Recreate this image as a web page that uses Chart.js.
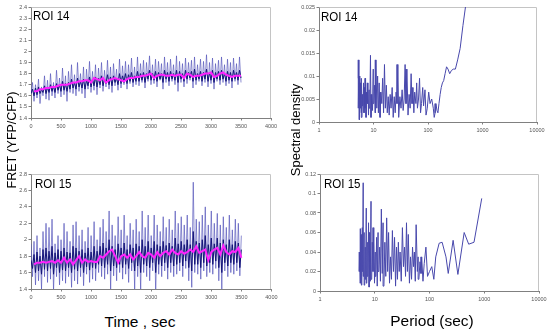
<!DOCTYPE html>
<html><head><meta charset="utf-8">
<script src="https://cdn.jsdelivr.net/npm/chart.js@4.4.0/dist/chart.umd.min.js"></script>
<style>
html,body{margin:0;padding:0;background:#fff;width:550px;height:335px;overflow:hidden;position:relative;font-family:"Liberation Sans",Arial,sans-serif}
canvas{position:absolute}
.t{position:absolute;color:#000;white-space:nowrap;line-height:1}
.roi{font-size:12px;transform:scaleX(0.96);transform-origin:left top}
.rot{transform:translate(-50%,-50%) rotate(-90deg)}
</style></head><body>
<canvas id="c1" width="280" height="140" style="left:0;top:0"></canvas>
<canvas id="c2" width="280" height="144" style="left:0;top:167px"></canvas>
<canvas id="c3" width="270" height="144" style="left:280px;top:0"></canvas>
<canvas id="c4" width="270" height="146" style="left:280px;top:167px"></canvas>
<div class="t roi" style="left:33px;top:9.5px">ROI 14</div>
<div class="t roi" style="left:35px;top:177.5px">ROI 15</div>
<div class="t roi" style="left:321px;top:10.5px">ROI 14</div>
<div class="t roi" style="left:324px;top:177.5px">ROI 15</div>
<div class="t" style="left:140px;top:313.5px;font-size:15.5px;transform:translateX(-50%)">Time , sec</div>
<div class="t" style="left:432px;top:312.5px;font-size:15.5px;transform:translateX(-50%)">Period (sec)</div>
<div class="t rot" style="left:12px;top:140px;font-size:12.5px">FRET (YFP/CFP)</div>
<div class="t rot" style="left:295px;top:130px;font-size:13px">Spectral density</div>
<script>
// ---------- data ----------
const timeTicks = [0,500,1000,1500,2000,2500,3000,3500,4000];
const fretTicks14 = [1.4,1.5,1.6,1.7,1.8,1.9,2,2.1,2.2,2.3,2.4];
const fretTicks15 = [1.4,1.6,1.8,2,2.2,2.4,2.6,2.8];
const periodTicks = [1,10,100,1000,10000];
const specTicks14 = [0,0.005,0.01,0.015,0.02,0.025];
const specTicks15 = [0,0.02,0.04,0.06,0.08,0.1,0.12];

const timeRaw = [0,25,50,75,100,125,150,175,200,225,250,275,300,325,350,375,400,425,450,475,500,525,550,575,600,625,650,675,700,725,750,775,800,825,850,875,900,925,950,975,1000,1025,1050,1075,1100,1125,1150,1175,1200,1225,1250,1275,1300,1325,1350,1375,1400,1425,1450,1475,1500,1525,1550,1575,1600,1625,1650,1675,1700,1725,1750,1775,1800,1825,1850,1875,1900,1925,1950,1975,2000,2025,2050,2075,2100,2125,2150,2175,2200,2225,2250,2275,2300,2325,2350,2375,2400,2425,2450,2475,2500,2525,2550,2575,2600,2625,2650,2675,2700,2725,2750,2775,2800,2825,2850,2875,2900,2925,2950,2975,3000,3025,3050,3075,3100,3125,3150,3175,3200,3225,3250,3275,3300,3325,3350,3375,3400,3425,3450,3475,3500];
const timeSmooth = [50,100,150,200,250,300,350,400,450,500,550,600,650,700,750,800,850,900,950,1000,1050,1100,1150,1200,1250,1300,1350,1400,1450,1500,1550,1600,1650,1700,1750,1800,1850,1900,1950,2000,2050,2100,2150,2200,2250,2300,2350,2400,2450,2500,2550,2600,2650,2700,2750,2800,2850,2900,2950,3000,3050,3100,3150,3200,3250,3300,3350,3400,3450,3500];

const roi14Light = [1.62,
1.72,1.55,1.70,1.58,1.75,1.53,1.68,1.60,1.78,1.57,
1.74,1.56,1.80,1.60,1.72,1.58,1.83,1.62,1.76,1.59,
1.85,1.61,1.78,1.55,1.82,1.63,1.88,1.62,1.79,1.60,
1.90,1.64,1.80,1.62,1.86,1.58,1.84,1.66,1.91,1.63,
1.82,1.65,1.88,1.61,1.85,1.67,1.90,1.64,1.83,1.68,
1.92,1.66,1.86,1.63,1.89,1.69,1.84,1.65,1.93,1.67,
1.87,1.70,1.91,1.66,1.88,1.71,1.94,1.68,1.86,1.70,
1.95,1.69,1.89,1.72,1.92,1.67,1.90,1.73,1.96,1.70,
1.88,1.71,1.93,1.68,1.91,1.74,1.89,1.66,1.95,1.72,
1.90,1.69,1.93,1.73,1.88,1.70,1.96,1.64,1.91,1.72,
1.89,1.68,1.94,1.71,1.90,1.74,1.92,1.67,1.95,1.70,
1.88,1.73,1.93,1.69,1.91,1.72,1.97,1.68,1.90,1.71,
1.94,1.66,1.89,1.73,1.92,1.70,1.95,1.72,1.88,1.69,
1.93,1.71,1.90,1.67,1.94,1.73,1.89,1.70,1.95,1.72];

const roi14Dark = [1.62,
1.66,1.60,1.67,1.61,1.68,1.62,1.66,1.63,1.69,1.62,
1.68,1.63,1.70,1.64,1.69,1.63,1.71,1.65,1.70,1.64,
1.73,1.65,1.71,1.64,1.72,1.66,1.75,1.67,1.72,1.66,
1.76,1.68,1.73,1.67,1.75,1.66,1.74,1.69,1.77,1.68,
1.75,1.69,1.77,1.68,1.76,1.70,1.78,1.69,1.75,1.71,
1.79,1.70,1.77,1.69,1.78,1.72,1.76,1.70,1.80,1.71,
1.78,1.72,1.80,1.71,1.79,1.73,1.81,1.72,1.78,1.73,
1.82,1.73,1.80,1.74,1.81,1.72,1.80,1.75,1.83,1.74,
1.80,1.74,1.82,1.73,1.81,1.75,1.80,1.72,1.83,1.75,
1.81,1.73,1.82,1.75,1.80,1.74,1.83,1.72,1.82,1.75,
1.80,1.73,1.83,1.75,1.81,1.76,1.82,1.73,1.84,1.74,
1.80,1.75,1.82,1.73,1.81,1.75,1.84,1.73,1.81,1.74,
1.83,1.72,1.81,1.75,1.82,1.74,1.83,1.75,1.80,1.73,
1.82,1.74,1.81,1.73,1.83,1.75,1.81,1.74,1.83,1.76];

const roi14Smooth = [1.64,1.64,1.66,1.66,1.67,1.67,1.68,1.68,1.69,1.70,
1.70,1.70,1.71,1.72,1.72,1.73,1.73,1.74,1.74,1.72,
1.76,1.75,1.74,1.76,1.72,1.74,1.75,1.76,1.75,1.74,
1.73,1.75,1.76,1.76,1.77,1.77,1.78,1.78,1.79,1.80,
1.76,1.78,1.79,1.79,1.78,1.78,1.79,1.78,1.79,1.79,
1.76,1.80,1.79,1.77,1.78,1.78,1.79,1.80,1.80,1.81,
1.77,1.78,1.80,1.81,1.79,1.78,1.77,1.78,1.78,1.78];

const roi15Light = [1.95,
1.55,1.98,1.45,2.05,1.50,1.90,1.40,2.10,1.55,2.20,
1.48,2.15,1.52,2.25,1.38,1.95,1.55,2.05,1.45,2.00,
1.50,2.20,1.47,2.10,1.55,1.98,1.42,2.18,1.50,2.22,
1.46,2.05,1.55,2.12,1.44,1.98,1.58,2.15,1.48,2.05,
1.52,2.22,1.50,2.00,1.60,2.15,1.55,2.25,1.52,2.10,
1.58,2.35,1.40,2.18,1.56,2.05,1.50,2.28,1.60,2.12,
1.52,2.30,1.58,2.05,1.48,2.20,1.62,2.12,1.40,2.25,
1.55,2.10,1.38,2.35,1.60,2.15,1.55,2.30,1.50,2.05,
1.62,2.30,1.35,2.18,1.58,2.10,1.55,2.28,1.62,2.15,
1.52,2.25,1.60,2.12,1.55,2.35,1.58,2.20,1.62,2.28,
1.55,2.18,1.65,2.30,1.50,2.15,1.42,2.70,1.60,2.25,
1.58,2.22,1.52,2.30,1.62,2.40,1.55,2.18,1.60,2.35,
1.58,2.20,1.65,2.32,1.50,2.18,1.40,2.28,1.62,2.15,
1.55,2.30,1.60,2.12,1.58,2.25,1.62,2.20,1.56,2.05];

const roi15Dark = [1.75,
1.65,1.82,1.60,1.85,1.62,1.80,1.58,1.88,1.64,1.90,
1.62,1.86,1.65,1.92,1.58,1.84,1.66,1.88,1.60,1.86,
1.63,1.90,1.62,1.85,1.66,1.84,1.60,1.92,1.64,1.90,
1.62,1.86,1.66,1.88,1.60,1.84,1.67,1.90,1.63,1.85,
1.66,1.92,1.65,1.86,1.70,1.92,1.68,1.96,1.66,1.90,
1.70,2.00,1.62,1.92,1.68,1.88,1.66,1.95,1.70,1.90,
1.66,1.96,1.70,1.88,1.65,1.94,1.72,1.90,1.62,1.95,
1.68,1.92,1.60,2.00,1.70,1.92,1.68,1.98,1.66,1.90,
1.72,1.98,1.60,1.94,1.70,1.92,1.68,1.98,1.72,1.93,
1.66,1.96,1.72,1.92,1.68,2.02,1.70,1.95,1.72,1.98,
1.68,1.94,1.74,2.00,1.66,1.94,1.62,2.10,1.70,1.98,
1.70,1.96,1.66,2.00,1.72,2.05,1.68,1.94,1.72,2.02,
1.70,1.95,1.74,2.02,1.66,1.96,1.60,2.00,1.72,1.94,
1.68,2.00,1.72,1.94,1.70,1.98,1.72,1.96,1.66,1.88];

const roi15Smooth = [1.70,1.72,1.72,1.73,1.72,1.73,1.74,1.72,1.75,1.72,
1.78,1.72,1.76,1.70,1.75,1.80,1.72,1.76,1.73,1.74,
1.73,1.73,1.80,1.78,1.82,1.86,1.88,1.80,1.72,1.80,
1.82,1.78,1.82,1.76,1.80,1.85,1.80,1.78,1.84,1.82,
1.78,1.85,1.80,1.84,1.86,1.82,1.88,1.84,1.82,1.86,
1.83,1.85,1.88,1.85,1.92,1.84,1.86,1.88,1.75,1.85,
1.88,1.90,1.82,1.93,1.85,1.82,1.86,1.85,1.90,1.78];

const period14 = [500,438,389,350,318,292,269,250,233,219,206,194,184,175,167,159,152,146,140,135,130,125,117,109,103,97,92,88,83,80,76,73,70,67,64,62,60,57,55,53,51,49,47,45,43,41,39.5,38,36.5,35,33.5,32,30.5,29,28,27,26,25,24,23,22,21,20.2,19.4,18.6,17.9,17.2,16.5,15.9,15.3,14.7,14.2,13.7,13.2,12.7,12.3,11.9,11.5,11.1,10.8,10.5,10.2,9.9,9.6,9.3,9.0,8.8,8.55,8.3,8.1,7.9,7.7,7.5,7.3,7.15,7.0,6.85,6.7,6.55,6.4,6.28,6.15,6.03,5.92,5.81,5.7,5.6,5.5,5.4,5.3,5.22];
const spec14 = [0.026,0.021,0.016,0.0135,0.0115,0.0115,0.0112,0.0105,0.0115,0.012,
0.0105,0.009,0.0085,0.0075,0.006,0.004,0.002,0.0025,0.004,0.002,
0.001,0.003,0.005,0.004,0.0065,0.003,0.0015,0.007,0.0035,0.0075,
0.004,0.002,0.0095,0.005,0.003,0.0085,0.004,0.0065,0.002,0.0075,
0.004,0.0105,0.003,0.006,0.0015,0.0115,0.004,0.0125,0.005,0.0025,
0.007,0.003,0.0055,0.001,0.0125,0.004,0.0065,0.002,0.0055,0.001,
0.0075,0.003,0.006,0.0015,0.0055,0.002,0.008,0.003,0.0125,0.002,
0.0095,0.004,0.0065,0.001,0.0085,0.002,0.01,0.003,0.0135,0.002,
0.008,0.004,0.0115,0.0025,0.006,0.001,0.0145,0.003,0.007,0.0015,
0.0085,0.004,0.0065,0.001,0.0095,0.003,0.0075,0.002,0.0085,0.0035,
0.006,0.001,0.0095,0.002,0.0085,0.003,0.01,0.0005,0.0135,0.003,
0.0095];

const period15 = [900,650,520,430,330,270,220,200,170,150,130,120,110,100,92,86,80,76,72,
70,67,64,62,60,57,55,53,51,49,47,45,43,41,39.5,38,36.5,35,33.5,32,30.5,29,28,27,26,25,24,23,22,21,20.2,19.4,18.6,17.9,17.2,16.5,15.9,15.3,14.7,14.2,13.7,13.2,12.7,12.3,11.9,11.5,11.1,10.8,10.5,10.2,9.9,9.6,9.3,9.0,8.8,8.55,8.3,8.1,7.9,7.7,7.5,7.3,7.15,7.0,6.85,6.7,6.55,6.4,6.28,6.15,6.03,5.92,5.81,5.7,5.6,5.5,5.4,5.3,5.22];
const spec15 = [0.095,0.050,0.048,0.060,0.017,0.052,0.018,0.035,0.050,0.049,0.035,0.012,0.025,0.020,0.015,0.045,0.028,0.010,0.035,
0.018,0.03,0.012,0.035,0.02,0.068,0.01,0.04,0.025,0.045,
0.012,0.035,0.008,0.058,0.02,0.07,0.015,0.045,0.025,0.065,
0.01,0.04,0.02,0.05,0.012,0.045,0.005,0.055,0.02,0.062,
0.012,0.035,0.008,0.06,0.02,0.075,0.015,0.05,0.005,0.07,
0.018,0.084,0.01,0.045,0.02,0.06,0.005,0.055,0.015,0.04,
0.008,0.065,0.02,0.05,0.012,0.092,0.01,0.06,0.004,0.07,
0.015,0.05,0.008,0.085,0.012,0.045,0.006,0.06,0.015,0.111,
0.02,0.065,0.006,0.058,0.012,0.064,0.008,0.04,0.02];

// ---------- helpers ----------
const FONT = '"Liberation Sans", Arial, sans-serif';
const pts = (xs, ys) => xs.map((x, i) => ({x: x, y: ys[i]}));
const fmt = v => String(+(+v).toFixed(4));

const frame = {
  id: 'frame',
  beforeDatasetsDraw(chart) {
    const a = chart.chartArea, c = chart.ctx;
    c.save();
    c.strokeStyle = '#c4c4c4';
    c.lineWidth = 1;
    c.beginPath();
    c.moveTo(Math.round(a.left) + 0.5, Math.round(a.top) + 0.5);
    c.lineTo(Math.round(a.right) - 0.5, Math.round(a.top) + 0.5);
    c.lineTo(Math.round(a.right) - 0.5, Math.round(a.bottom));
    c.stroke();
    c.restore();
  }
};

function axis(type, min, max, tickVals, size, isY) {
  return {
    type: type, min: min, max: max,
    afterBuildTicks: s => { s.ticks = tickVals.map(v => ({value: v})); },
    afterFit: s => { if (isY) s.width = size; else s.height = size; },
    ticks: {
      autoSkip: false, maxRotation: 0, minRotation: 0,
      font: {size: 5.5, family: FONT}, color: '#555',
      padding: isY ? 1.5 : 2.5,
      callback: v => fmt(v)
    },
    grid: {display: true, drawOnChartArea: false, drawTicks: true, tickLength: 2.5, color: '#808080', lineWidth: 1},
    border: {display: true, color: '#808080', width: 1}
  };
}

function make(id, datasets, xs, ys, pad) {
  return new Chart(document.getElementById(id), {
    type: 'line',
    data: {datasets: datasets},
    options: {
      responsive: false, animation: false, events: [],
      layout: {padding: pad},
      plugins: {legend: {display: false}, tooltip: {enabled: false}, title: {display: false}},
      elements: {point: {radius: 0}, line: {tension: 0, borderJoinStyle: 'miter'}},
      scales: {x: xs, y: ys}
    },
    plugins: [frame]
  });
}

function timeSets(light, dark, smooth) {
  return [
    {data: pts(timeSmooth, smooth), borderColor: '#ff22ff', borderWidth: 2, order: 0},
    {data: pts(timeRaw, dark), borderColor: '#141478', borderWidth: 1, order: 1},
    {data: pts(timeRaw, light), borderColor: 'rgba(80,80,185,0.65)', borderWidth: 1, order: 2}
  ];
}

make('c1', timeSets(roi14Light, roi14Dark, roi14Smooth),
  axis('linear', 0, 4000, timeTicks, 22, false),
  axis('linear', 1.4, 2.4, fretTicks14, 31, true),
  {top: 7, right: 9, left: 0, bottom: 0});

make('c2', timeSets(roi15Light, roi15Dark, roi15Smooth),
  axis('linear', 0, 4000, timeTicks, 22, false),
  axis('linear', 1.4, 2.8, fretTicks15, 31, true),
  {top: 7, right: 8, left: 0, bottom: 0});

make('c3', [{data: pts(period14, spec14), borderColor: '#4848ac', borderWidth: 1}],
  axis('logarithmic', 1, 10000, periodTicks, 22, false),
  axis('linear', 0, 0.025, specTicks14, 39, true),
  {top: 7, right: 13, left: 0, bottom: 0});

make('c4', [{data: pts(period15, spec15), borderColor: '#4848ac', borderWidth: 1}],
  axis('logarithmic', 1, 10000, periodTicks, 22, false),
  axis('linear', 0, 0.12, specTicks15, 40, true),
  {top: 7, right: 11, left: 0, bottom: 0});
</script>
</body></html>
